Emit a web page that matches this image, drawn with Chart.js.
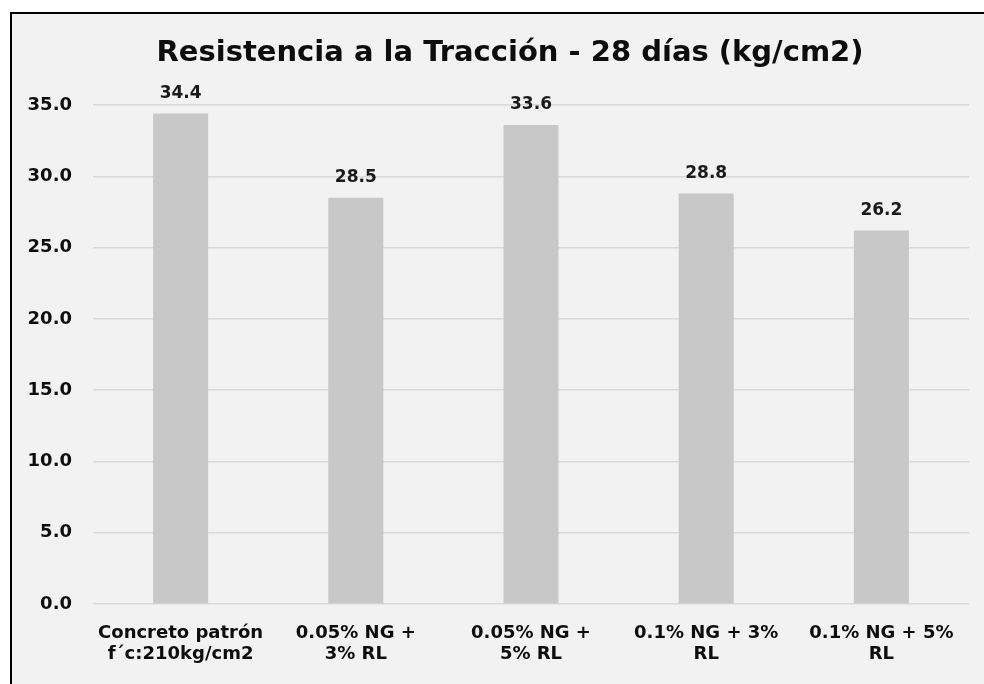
<!DOCTYPE html>
<html>
<head>
<meta charset="utf-8">
<script src="https://cdn.jsdelivr.net/npm/chart.js@4.4.1/dist/chart.umd.min.js"></script>
<style>
  html, body { margin: 0; padding: 0; background: #fff; }
  #frame {
    position: absolute; left: 10px; top: 12px; width: 1000px; height: 700px;
    border: 2px solid #000; background: #f2f2f2;
  }
  #wrap { position: absolute; left: 0; top: 0; width: 984px; height: 684px; }
</style>
</head>
<body>
<div id="frame"></div>
<div id="wrap"><canvas id="mainChart" width="984" height="684"></canvas></div>
<script>
'use strict';

// ─── Data ─────────────────────────────────────────────────────────────────────

const TITLE = 'Resistencia a la Tracción - 28 días (kg/cm2)';
const categories = [
  ['Concreto patrón', 'f´c:210kg/cm2'],
  ['0.05% NG +', '3% RL'],
  ['0.05% NG +', '5% RL'],
  ['0.1% NG + 3%', 'RL'],
  ['0.1% NG + 5%', 'RL'],
];
const values = [34.4, 28.5, 33.6, 28.8, 26.2];
const yMin = 0;
const yMax = 35;
const yStep = 5;

const AXIS_FONT = "'DejaVu Sans', sans-serif";

// ─── Title + value labels ─────────────────────────────────────────────────────

// the original chart is wider than the crop, so its title sits a bit right
// of the canvas centre; draw it by hand instead of the title plugin
const chartText = {
  id: 'chartText',
  afterDraw(chart) {
    const { ctx } = chart;
    ctx.save();
    ctx.font = `bold 29px ${AXIS_FONT}`;
    ctx.fillStyle = '#0d0d0d';
    ctx.textAlign = 'center';
    ctx.textBaseline = 'middle';
    ctx.fillText(TITLE, 510, 53);
    ctx.restore();
  },
  afterDatasetsDraw(chart) {
    const { ctx } = chart;
    const meta = chart.getDatasetMeta(0);
    ctx.save();
    ctx.font = `bold 17px ${AXIS_FONT}`;
    ctx.fillStyle = '#1a1a1a';
    ctx.textAlign = 'center';
    ctx.textBaseline = 'middle';
    meta.data.forEach((bar, i) => {
      ctx.fillText(values[i].toFixed(1), bar.x, bar.y - 20);
    });
    ctx.restore();
  },
};

// ─── Chart ────────────────────────────────────────────────────────────────────

const ctx = document.getElementById('mainChart').getContext('2d');
new Chart(ctx, {
  type: 'bar',
  data: {
    labels: categories,
    datasets: [
      {
        data: values,
        backgroundColor: '#c8c8c8',
        borderWidth: 0,
        categoryPercentage: 1,
        barPercentage: 0.314,
      },
    ],
  },
  options: {
    responsive: false,
    animation: false,
    layout: { padding: { left: 0, right: 15, top: 105, bottom: 0 } },
    plugins: {
      legend: { display: false },
      tooltip: { enabled: false },
      title: { display: false },
    },
    scales: {
      x: {
        grid: { display: false },
        border: { display: false },
        ticks: {
          color: '#0d0d0d',
          font: { family: AXIS_FONT, size: 18, weight: 'bold', lineHeight: 1.17 },
          padding: 11,
          maxRotation: 0,
          autoSkip: false,
        },
        afterFit: (s) => { s.height = 80; },
      },
      y: {
        min: yMin,
        max: yMax,
        grid: { color: '#d9d9d9', lineWidth: 1.5, drawTicks: false },
        border: { display: false },
        ticks: {
          stepSize: yStep,
          color: '#0d0d0d',
          font: { family: AXIS_FONT, size: 18, weight: 'bold' },
          padding: 21,
          callback: (v) => Number(v).toFixed(1),
        },
        afterFit: (s) => { s.width = 93; },
      },
    },
  },
  plugins: [chartText],
});
</script>
</body>
</html>
